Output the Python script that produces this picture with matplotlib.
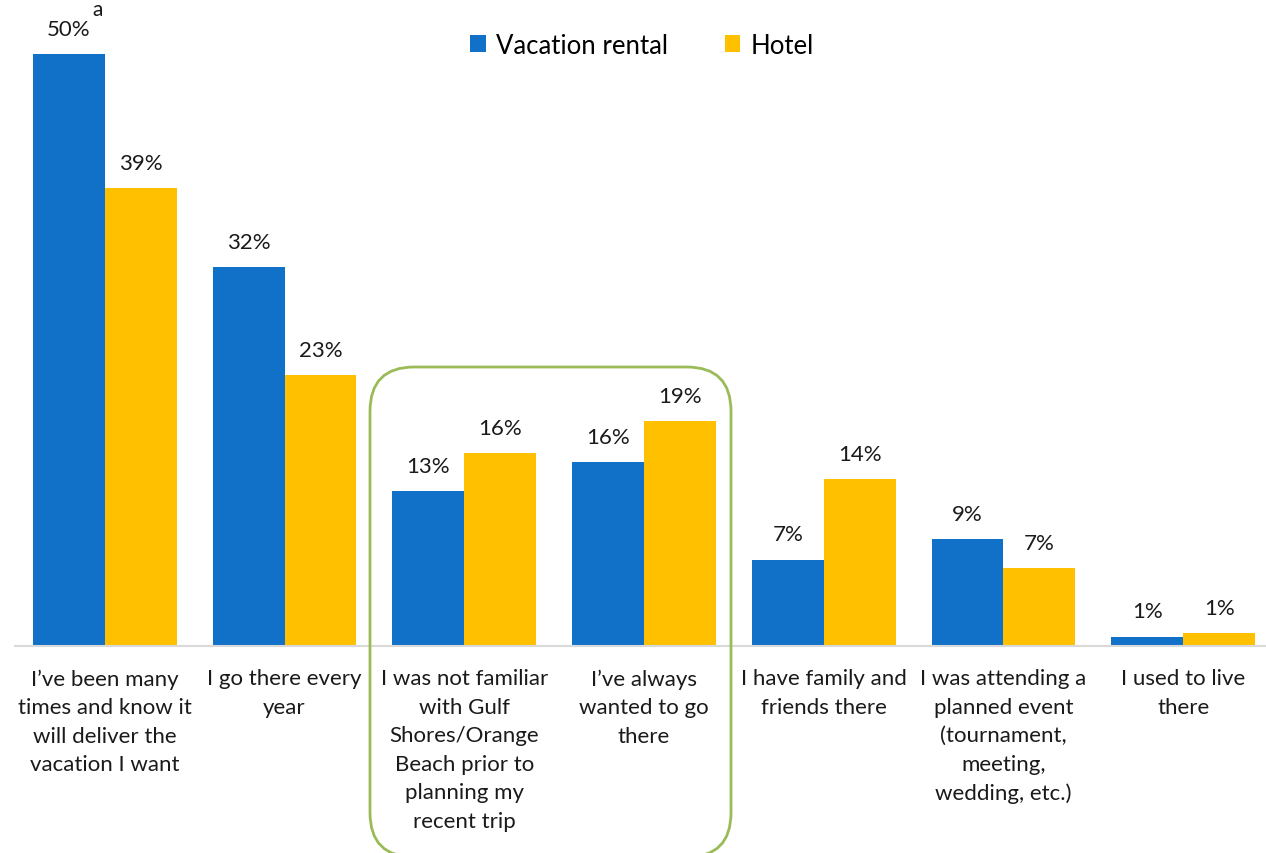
import numpy as np
import matplotlib
matplotlib.use('Agg')
import matplotlib.pyplot as plt
from matplotlib.patches import FancyBboxPatch

plt.rcParams['font.family'] = ['Lato', 'DejaVu Sans']

categories = [
    "I\u2019ve been many\ntimes and know it\nwill deliver the\nvacation I want",
    "I go there every\nyear",
    "I was not familiar\nwith Gulf\nShores/Orange\nBeach prior to\nplanning my\nrecent trip",
    "I\u2019ve always\nwanted to go\nthere",
    "I have family and\nfriends there",
    "I was attending a\nplanned event\n(tournament,\nmeeting,\nwedding, etc.)",
    "I used to live\nthere",
]
vacation_rental = [50.0, 32.0, 13.1, 15.5, 7.3, 9.0, 0.8]
hotel = [38.7, 22.9, 16.3, 19.0, 14.1, 6.6, 1.1]
series_names = ["Vacation rental", "Hotel"]

BLUE = '#1170C8'
GOLD = '#FFC000'

W, H = 1266, 854
fig = plt.figure(figsize=(W / 100, H / 100), dpi=100)

# axes placed in pixel terms: baseline at y=647, 50% at y=55, categories 15..1273
left, right = 15, 1273
bottom, top = 647, 55
ax = fig.add_axes([left / W, (H - bottom) / H, (right - left) / W, (bottom - top) / H])
ax.set_xlim(-0.5, len(categories) - 0.5)
ax.set_ylim(0, 50)

x = np.arange(len(categories))
bw = 0.4
b1 = ax.bar(x - bw / 2, vacation_rental, bw, color=BLUE, label=series_names[0])
b2 = ax.bar(x + bw / 2, hotel, bw, color=GOLD, label=series_names[1])

for bars, vals in ((b1, vacation_rental), (b2, hotel)):
    for rect, v in zip(bars, vals):
        ax.annotate(f"{v:.0f}%", (rect.get_x() + rect.get_width() / 2, rect.get_height()),
                    xytext=(0, 11), textcoords='offset points', ha='center', va='bottom',
                    fontsize=16, color='#1a1a1a', annotation_clip=False)

# superscript note next to the first label
ax.annotate("a", (b1[0].get_x() + b1[0].get_width() / 2, vacation_rental[0]),
            xytext=(17, 25), textcoords='offset points', ha='left', va='bottom',
            fontsize=15, color='#1a1a1a', annotation_clip=False)

for spine in ax.spines.values():
    spine.set_visible(False)
ax.set_yticks([])
ax.set_xticks(x)
ax.set_xticklabels(categories, fontsize=16, color='#1a1a1a', linespacing=1.53)
ax.tick_params(axis='x', length=0, pad=16)
ax.axhline(0, color='#D9D9D9', lw=1.5, clip_on=False)

leg = fig.legend(handles=[b1, b2], loc='center', bbox_to_anchor=(642 / W, 1 - 46 / H),
                 ncol=2, frameon=False, fontsize=18.5, handlelength=0.6, handleheight=0.6,
                 handletextpad=0.4, columnspacing=2.2)

# highlight box around the two middle groups
box = FancyBboxPatch((370 / W, -4 / H), (731 - 370) / W, (H - 368 + 4) / H,
                     boxstyle='round,pad=0,rounding_size=0.035', transform=fig.transFigure,
                     fill=False, edgecolor='#9BBB59', lw=2, mutation_aspect=W / H)
fig.patches.append(box)

fig.savefig('out.png', dpi=100)
